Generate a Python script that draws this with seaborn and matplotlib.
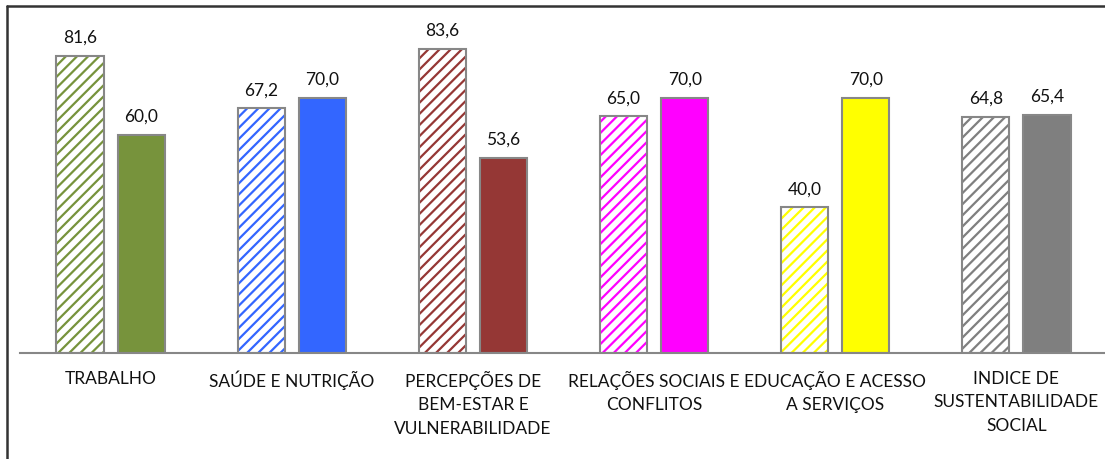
import pandas as pd
import matplotlib.pyplot as plt
import seaborn as sns
from matplotlib.lines import Line2D
from matplotlib.patches import Rectangle

# dados do gráfico
categorias = ["TRABALHO", "SAÚDE E NUTRIÇÃO",
              "PERCEPÇÕES DE\nBEM-ESTAR E\nVULNERABILIDADE",
              "RELAÇÕES SOCIAIS E\nCONFLITOS",
              "EDUCAÇÃO E ACESSO\nA SERVIÇOS",
              "INDICE DE\nSUSTENTABILIDADE\nSOCIAL"]
series = ["Série 1", "Série 2"]
valores_s1 = [81.6, 67.2, 83.6, 65.0, 40.0, 64.8]
valores_s2 = [60.0, 70.0, 53.6, 70.0, 70.0, 65.4]
cores = ["#77933C", "#3366FF", "#953735", "#FF00FF", "#FFFF00", "#7F7F7F"]

df = pd.DataFrame({
    "categoria": categorias * 2,
    "serie": [series[0]] * len(categorias) + [series[1]] * len(categorias),
    "valor": valores_s1 + valores_s2,
})

sns.set_style("white")
plt.rcParams['font.family'] = ['Lato', 'DejaVu Sans']
plt.rcParams['hatch.linewidth'] = 1.6

fig = plt.figure(figsize=(11.05, 4.6), dpi=100)
ax = fig.add_axes([20 / 1105, 106 / 460, 1087 / 1105, 347 / 460])

sns.barplot(data=df, x="categoria", y="valor", hue="serie", order=categorias,
            hue_order=series, width=0.676, gap=0.23, legend=False, ax=ax)

cinza = "#878787"
c_hach, c_solid = ax.containers[0], ax.containers[1]
for barra, cor in zip(c_hach.patches, cores):
    barra.set_facecolor("white")
    barra.set_hatch("///")
    barra.set_edgecolor(cor)
    barra.set_linewidth(0)
    contorno = Rectangle(barra.get_xy(), barra.get_width(), barra.get_height(),
                         fill=False, edgecolor=cinza, linewidth=1.5, zorder=barra.get_zorder() + 0.1)
    ax.add_patch(contorno)
for barra, cor in zip(c_solid.patches, cores):
    barra.set_facecolor(cor)
    barra.set_edgecolor(cinza)
    barra.set_linewidth(1.5)

for cont in ax.containers:
    ax.bar_label(cont, labels=[f"{v:.1f}".replace(".", ",") for v in cont.datavalues],
                 padding=8, fontsize=12.5, color="#111111")

ax.set_ylim(0, 95.3)
ax.set_xlim(-0.5, 5.5)
ax.set_xlabel("")
ax.set_ylabel("")
ax.set_yticks([])
ax.tick_params(axis="x", length=0, pad=12, labelsize=12.5, colors="#111111")
for lbl in ax.get_xticklabels():
    lbl.set_linespacing(1.6)
for s in ["left", "top", "right"]:
    ax.spines[s].set_visible(False)
ax.spines["bottom"].set_color(cinza)
ax.spines["bottom"].set_linewidth(1.5)

# moldura parcial (esquerda e topo)
fig.add_artist(Line2D([7 / 1105, 7 / 1105], [0, 1 - 7 / 460], color="#333333", linewidth=1.8))
fig.add_artist(Line2D([7 / 1105, 1], [1 - 7 / 460, 1 - 7 / 460], color="#333333", linewidth=1.8))

fig.savefig("out.png", dpi=100)
